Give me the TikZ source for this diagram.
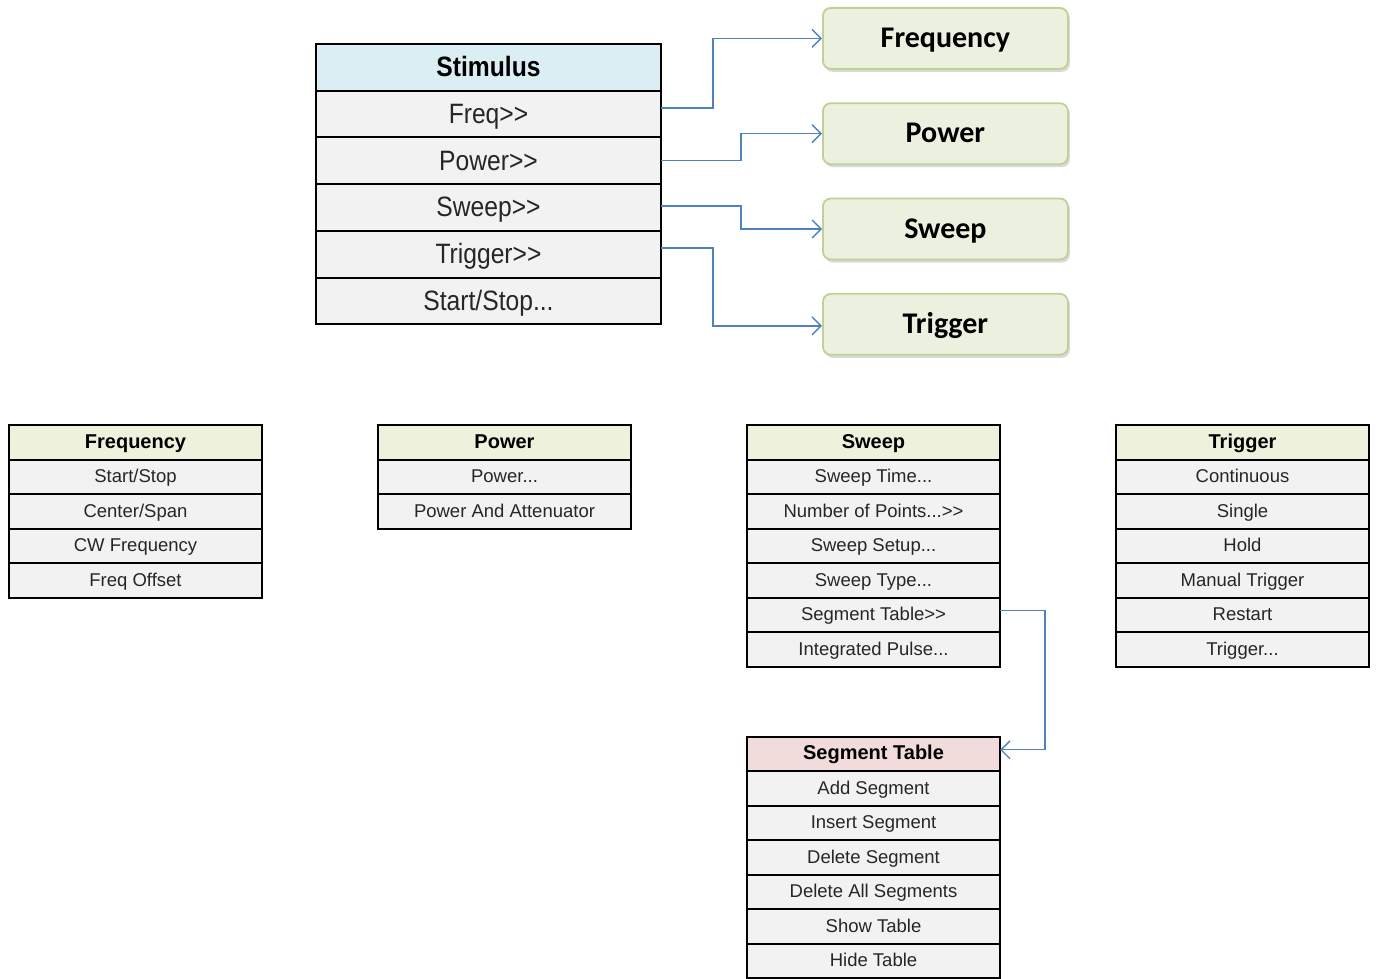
\documentclass[tikz,border=0pt]{standalone}
\usepackage{fontspec}
\setmainfont{Liberation Sans}
\newfontfamily\narrowfont[FakeStretch=0.88]{Liberation Sans}
\newfontfamily\btnfont{Carlito}
\usetikzlibrary{positioning,arrows.meta,shadows}

\definecolor{stimhead}{HTML}{DAEEF3}
\definecolor{menuhead}{HTML}{EEF1DC}
\definecolor{seghead}{HTML}{F2DCDB}
\definecolor{rowgray}{HTML}{F2F2F2}
\definecolor{textgray}{HTML}{262626}
\definecolor{btnfill}{HTML}{EBF1DE}
\definecolor{btnedge}{HTML}{BFD295}
\definecolor{linkblue}{HTML}{4F81BD}

\begin{document}
\begin{tikzpicture}[
  x=1pt, y=-1pt,
  cell/.style={draw=black, line width=2pt, fill=rowgray, text=textgray, minimum width=253pt, minimum height=34.5pt, inner sep=0pt, outer sep=0pt, text height=16pt, text depth=4pt, font=\fontsize{18.5}{18.5}\selectfont},
  head/.style={cell, fill=menuhead, text=black, text height=16pt, font=\fontsize{20}{20}\selectfont\bfseries},
  stcell/.style={cell, minimum width=345pt, minimum height=46.7pt, text height=25pt, text depth=6pt, font=\narrowfont\fontsize{28}{28}\selectfont},
  sthead/.style={stcell, fill=stimhead, text=black, font=\narrowfont\fontsize{28}{28}\selectfont\bfseries},
  btn/.style={draw=btnedge, line width=1.8pt, fill=btnfill, rounded corners=8pt, minimum width=245pt, minimum height=61pt, text=black, text height=24pt, text depth=6pt, font=\btnfont\fontsize{30}{30}\selectfont\bfseries, drop shadow={shadow xshift=2pt, shadow yshift=-3pt, opacity=0.25, fill=black!60}},
  link/.style={draw=linkblue, line width=1.4pt, -{Straight Barb[length=9pt, width=18pt]}}
]
  \useasboundingbox (0,0) rectangle (1378,979);

  % stimulus menu
  \node[sthead, anchor=north west] (stim) at (316,44) {Stimulus};
  \node[stcell, below=0pt of stim] (stfreq) {Freq>{}>};
  \node[stcell, below=0pt of stfreq] (stpow) {Power>{}>};
  \node[stcell, below=0pt of stpow] (stsweep) {Sweep>{}>};
  \node[stcell, below=0pt of stsweep] (sttrig) {Trigger>{}>};
  \node[stcell, below=0pt of sttrig] (ststart) {Start/Stop...};

  % submenu buttons
  \node[btn, anchor=north west] (btnfreq) at (822,7) {Frequency};
  \node[btn, below=32.5pt of btnfreq] (btnpow) {Power};
  \node[btn, below=32.5pt of btnpow] (btnsweep) {Sweep};
  \node[btn, below=32.5pt of btnsweep] (btntrig) {Trigger};

  \draw[link] ([yshift=6pt]stfreq.east) -- ++(52,0) |- (btnfreq.west);
  \draw[link] (stpow.east) -- ++(80,0) |- (btnpow.west);
  \draw[link] ([yshift=1.5pt]stsweep.east) -- ++(80,0) |- (btnsweep.west);
  \draw[link] ([yshift=6pt]sttrig.east) -- ++(52,0) |- ([yshift=-1.5pt]btntrig.west);

  % frequency menu
  \node[head, anchor=north west] (fhead) at (9,425) {Frequency};
  \node[cell, below=0pt of fhead] (f1) {Start/Stop};
  \node[cell, below=0pt of f1] (f2) {Center/Span};
  \node[cell, below=0pt of f2] (f3) {CW Frequency};
  \node[cell, below=0pt of f3] (f4) {Freq Offset};

  % power menu
  \node[head, right=116pt of fhead] (phead) {Power};
  \node[cell, below=0pt of phead] (p1) {Power...};
  \node[cell, below=0pt of p1] (p2) {Power And Attenuator};

  % sweep menu
  \node[head, right=116pt of phead] (swhead) {Sweep};
  \node[cell, below=0pt of swhead] (sw1) {Sweep Time...};
  \node[cell, below=0pt of sw1] (sw2) {Number of Points...>{}>};
  \node[cell, below=0pt of sw2] (sw3) {Sweep Setup...};
  \node[cell, below=0pt of sw3] (sw4) {Sweep Type...};
  \node[cell, below=0pt of sw4] (sw5) {Segment Table>{}>};
  \node[cell, below=0pt of sw5] (sw6) {Integrated Pulse...};

  % trigger menu
  \node[head, right=116pt of swhead] (thead) {Trigger};
  \node[cell, below=0pt of thead] (t1) {Continuous};
  \node[cell, below=0pt of t1] (t2) {Single};
  \node[cell, below=0pt of t2] (t3) {Hold};
  \node[cell, below=0pt of t3] (t4) {Manual Trigger};
  \node[cell, below=0pt of t4] (t5) {Restart};
  \node[cell, below=0pt of t5] (t6) {Trigger...};

  % segment table menu
  \node[head, fill=seghead, below=70pt of sw6] (seghd) {Segment Table};
  \node[cell, below=0pt of seghd] (s1) {Add Segment};
  \node[cell, below=0pt of s1] (s2) {Insert Segment};
  \node[cell, below=0pt of s2] (s3) {Delete Segment};
  \node[cell, below=0pt of s3] (s4) {Delete All Segments};
  \node[cell, below=0pt of s4] (s5) {Show Table};
  \node[cell, below=0pt of s5] (s6) {Hide Table};

  \draw[link] ([yshift=4pt]sw5.east) -- ++(45,0) |- ([yshift=4pt]seghd.east);
\end{tikzpicture}
\end{document}
